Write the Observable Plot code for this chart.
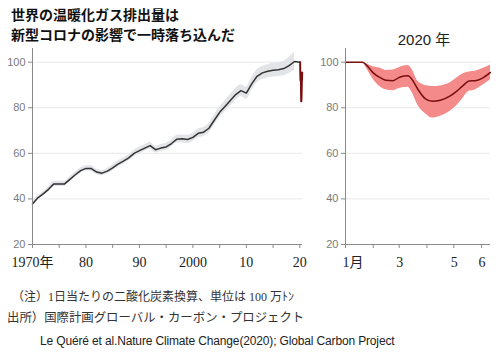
<!DOCTYPE html>
<html><head><meta charset="utf-8">
<script src="https://cdn.jsdelivr.net/npm/d3@7"></script>
<script src="https://cdn.jsdelivr.net/npm/@observablehq/plot@0.6"></script>
<style>
html,body{margin:0;padding:0;background:#fff;}
#root{position:relative;width:500px;height:354px;background:#fff;overflow:hidden;}
.abs{position:absolute;white-space:nowrap;}
#root svg{max-width:none;background:transparent;}
</style></head>
<body>
<div id="root">
  <div id="left" class="abs" style="left:0;top:40px;width:310px;height:240px;"></div>
  <div id="right" class="abs" style="left:300px;top:40px;width:200px;height:240px;"></div>
  <div class="abs" style="left:11px;top:4px;font:bold 14px/20px 'Noto Sans CJK JP',sans-serif;color:#111;">世界の温暖化ガス排出量は<br>新型コロナの影響で一時落ち込んだ</div>
  <div class="abs" style="left:374px;top:31px;width:100px;text-align:center;font:15px/18px 'Liberation Sans','Noto Sans CJK JP',sans-serif;color:#222;">2020 年</div>
  <div class="abs" style="left:12px;top:289px;font:12px/16px 'Liberation Serif','Noto Sans CJK JP',serif;color:#333;">（注）1日当たりの二酸化炭素換算、単位は 100 万ﾄﾝ</div>
  <div class="abs" style="left:7px;top:310px;font:12.4px/16px 'Liberation Serif','Noto Sans CJK JP',serif;color:#333;">出所）国際計画グローバル・カーボン・プロジェクト</div>
  <div class="abs" style="left:40px;top:333px;font:12px/16px 'Liberation Sans',sans-serif;letter-spacing:-0.15px;color:#222;">Le Quéré et al.Nature Climate Change(2020); Global Carbon Project</div>
</div>
<script>
// ---- data ----
const annualYears = d3.range(1970, 2020);
const annualValues = [37.8,40.5,42.2,44.2,46.6,46.6,46.6,48.6,50.6,52.4,
  53.4,53.3,51.8,51.3,52.2,53.6,55.3,56.6,58.0,60.0,
  61.2,62.3,63.4,61.6,62.3,62.8,64.3,66.2,66.4,66.1,
  67.0,68.8,69.3,71.0,74.5,78.0,80.6,83.2,85.8,87.5,
  86.4,90.5,93.8,95.3,96.0,96.5,96.7,97.2,98.5,100.3];
const annualSpread = [1,1,1,1,1.1,1.1,1.1,1.1,1.2,1.2,
  1.2,1.2,1.2,1.2,1.2,1.3,1.3,1.3,1.4,1.4,
  1.5,1.5,1.5,1.5,1.5,1.6,1.6,1.7,1.7,1.8,
  1.8,1.9,2,2.1,2.2,2.3,2.4,2.5,2.6,2.6,
  2.7,2.8,2.8,2.9,2.9,3,3,3.2,3.5,4];

const dailyDates = ["2020-01-01","2020-01-10","2020-01-20","2020-01-25","2020-02-01","2020-02-08","2020-02-15","2020-02-23","2020-03-02","2020-03-11","2020-03-15","2020-03-22","2020-03-30","2020-04-07","2020-04-16","2020-04-27","2020-05-04","2020-05-11","2020-05-18","2020-05-25","2020-06-01","2020-06-11"];
const dailyValues = [100,100,100,98.5,95.3,93.4,92.1,91.9,93.5,94,92.6,88,84,82.8,83.3,85.2,87.2,89.6,91.7,91.9,92.8,95.5];
const dailyHigh   = [100,100,100,99.2,98,97.4,96.4,96.6,97.8,98.5,97,91.5,89.8,89.3,89.6,91,93,94.8,95.7,96,97,98.8];
const dailyLow    = [100,100,100,97,92.4,89.4,87.9,87.5,88.6,89,87,81,77.5,75.5,76.3,78.5,80.8,84,87.2,87.8,89.5,92.3];

const yTicks = [20,40,60,80,100];
const yearTicks = d3.range(1970, 2021, 5);
const labelYears = [1970,1980,1990,2000,2010,2020];
const yearLabels = ["1970年","80","90","2000","10","20"];
const monthTicks = ["2020-01-01","2020-02-01","2020-03-01","2020-04-01","2020-05-01","2020-06-01"];
const monthLabels = ["1月","","3","","5","6"];

// ---- tables ----
const annual = annualYears.map((y,i)=>({x:y, v:annualValues[i], lo:annualValues[i]-annualSpread[i], hi:annualValues[i]+annualSpread[i]}));
const start = new Date("2020-01-01");
const daily = dailyDates.map((s,i)=>{const d=new Date(s); return {date:d, yf:2020+d3.utcDay.count(start,d)/366, v:dailyValues[i], lo:dailyLow[i], hi:dailyHigh[i]};});
const blackLine = annual.concat([{x:2020, v:dailyValues[0]}]);

const AX = "#8a8a8a", GRID = "#e8e8e8";
const yAxisOpts = {ticks:yTicks, tickSize:4, tickPadding:3, color:AX, fill:"#7a7a7a", fontSize:11, fontFamily:"'Liberation Sans',sans-serif", label:null};
const serifLab = {fontFamily:"'Liberation Serif','Noto Sans CJK JP',serif", fontSize:14, fill:"#222", tickSize:0, tickPadding:13, label:null};

const left = Plot.plot({
  width:310, height:240, marginLeft:32, marginRight:8, marginTop:8, marginBottom:36,
  x:{domain:[1970,2020.5]},
  y:{domain:[20,106]},
  marks:[
    Plot.ruleY(yTicks.slice(1), {stroke:GRID}),
    Plot.areaY(annual, {x:"x", y1:"lo", y2:"hi", fill:"#e2e4e8", curve:"monotone-x"}),
    Plot.lineY(blackLine, {x:"x", y:"v", stroke:"#333", strokeWidth:1.5}),
    Plot.lineY(daily, {x:"yf", y:"v", stroke:"#7a0f0f", strokeWidth:2}),
    Plot.ruleX([1970], {stroke:AX}),
    Plot.ruleY([20], {stroke:AX}),
    Plot.axisY(yAxisOpts),
    Plot.axisX({ticks:yearTicks, tickSize:4, tickFormat:()=>"", color:AX, label:null}),
    Plot.axisX({ticks:labelYears, tickFormat:d=>yearLabels[labelYears.indexOf(d)], ...serifLab})
  ]
});
document.getElementById("left").appendChild(left);

const mt = monthTicks.map(s=>new Date(s));
const right = Plot.plot({
  width:200, height:240, marginLeft:45, marginRight:10, marginTop:8, marginBottom:36,
  x:{type:"utc", domain:[new Date("2020-01-01"), new Date("2020-06-11")]},
  y:{domain:[20,106]},
  marks:[
    Plot.ruleY(yTicks.slice(1), {stroke:GRID}),
    Plot.areaY(daily, {x:"date", y1:"lo", y2:"hi", fill:"#f48a8a", curve:"monotone-x"}),
    Plot.lineY(daily, {x:"date", y:"v", stroke:"#7a0f0f", strokeWidth:1.5, curve:"monotone-x"}),
    Plot.ruleX([mt[0]], {stroke:AX}),
    Plot.ruleY([20], {stroke:AX}),
    Plot.axisY(yAxisOpts),
    Plot.axisX({ticks:mt, tickSize:4, tickFormat:()=>"", color:AX, label:null}),
    Plot.axisX({ticks:mt, tickFormat:d=>monthLabels[mt.findIndex(m=>+m===+d)], textAnchor:"start", dx:-3, ...serifLab})
  ]
});
document.getElementById("right").appendChild(right);
</script>
</body></html>
